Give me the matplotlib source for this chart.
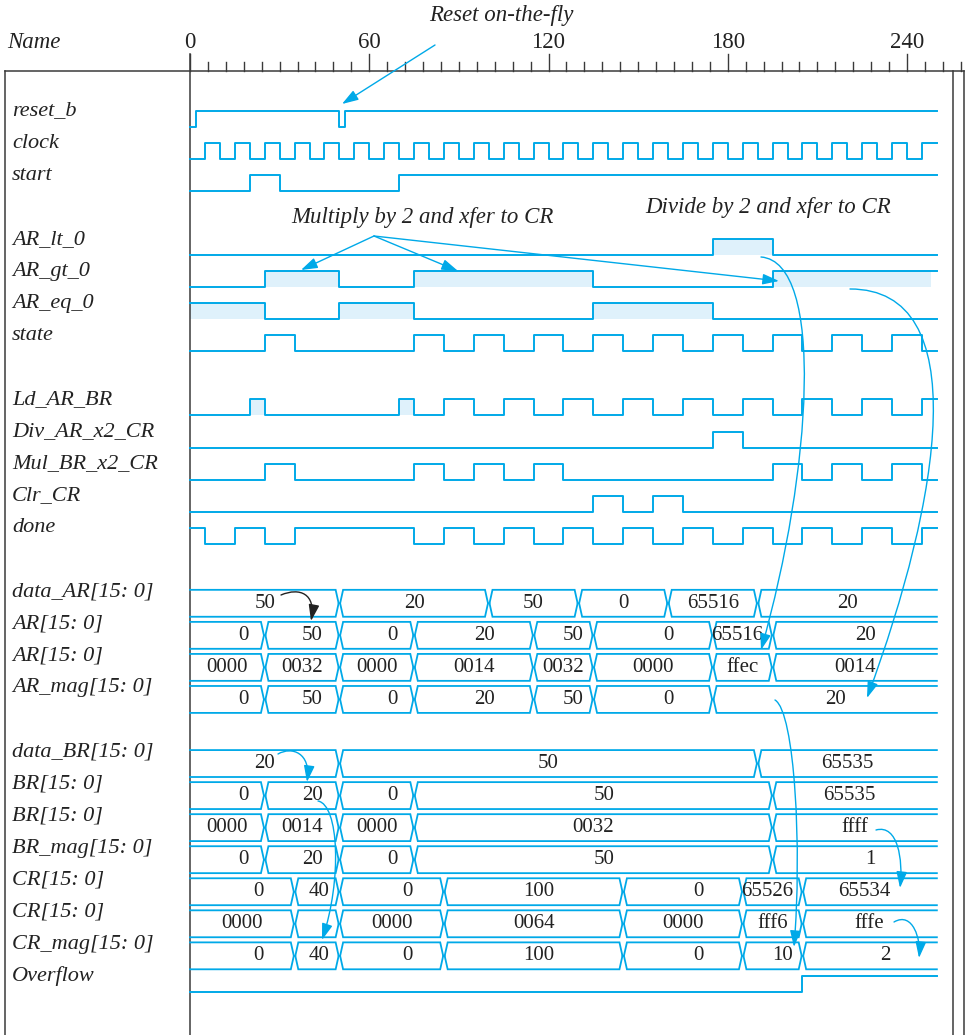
import numpy as np
import matplotlib.pyplot as plt
from matplotlib.path import Path
from matplotlib.patches import FancyArrowPatch

# layout: image pixels -> time / row units
W, H = 966, 1035
X0, SX = 190.0, 2.9875      # pixel of t=0, pixels per time unit
Y0, SY = 111.0, 32.05       # pixel of row 0 (high level), pixels per row
T_END = 250

BLUE = '#00a9e8'
SHADE = '#dff1fb'
FRAME = '#3a3a3a'
SERIF = ['Liberation Serif', 'DejaVu Serif']

# ---------------- data ----------------
time_ticks = [0, 60, 120, 180, 240]

sig_names = ['reset_b', 'clock', 'start', 'AR_lt_0', 'AR_gt_0', 'AR_eq_0', 'state',
             'Ld_AR_BR', 'Div_AR_x2_CR', 'Mul_BR_x2_CR', 'Clr_CR', 'done', 'Overflow']
sig_rows = [0, 1, 2, 4, 5, 6, 7, 9, 10, 11, 12, 13, 27]
sig_init = [0, 0, 0, 0, 0, 1, 0, 0, 0, 0, 0, 1, 0]

reset_b_edges = [2, 50, 52]
clock_edges = [5, 10, 15, 20, 25, 30, 35, 40, 45, 50, 55, 60, 65, 70, 75, 80, 85, 90, 95,
               100, 105, 110, 115, 120, 125, 130, 135, 140, 145, 150, 155, 160, 165, 170,
               175, 180, 185, 190, 195, 200, 205, 210, 215, 220, 225, 230, 235, 240, 245]
start_edges = [20, 30, 70]
AR_lt_0_edges = [175, 195]
AR_gt_0_edges = [25, 50, 75, 135, 195]
AR_eq_0_edges = [25, 50, 75, 135, 175]
state_edges = [25, 35, 75, 85, 95, 105, 115, 125, 135, 145, 155, 165, 175, 185, 195,
               205, 215, 225, 235, 245]
Ld_AR_BR_edges = [20, 25, 70, 75, 85, 95, 105, 115, 125, 135, 145, 155, 165, 175, 185,
                  195, 205, 215, 225, 235, 245]
Div_AR_x2_CR_edges = [175, 185]
Mul_BR_x2_CR_edges = [25, 35, 75, 85, 95, 105, 115, 125, 195, 205, 215, 225, 235, 245]
Clr_CR_edges = [135, 145, 155, 165]
done_edges = [5, 15, 25, 35, 75, 85, 95, 105, 115, 125, 135, 145, 155, 165, 175, 185,
              195, 205, 215, 225, 235, 245]
Overflow_edges = [205]
sig_edges = [reset_b_edges, clock_edges, start_edges, AR_lt_0_edges, AR_gt_0_edges,
             AR_eq_0_edges, state_edges, Ld_AR_BR_edges, Div_AR_x2_CR_edges,
             Mul_BR_x2_CR_edges, Clr_CR_edges, done_edges, Overflow_edges]

# highlighted (shaded) intervals
shade_spans = {
    'AR_lt_0': [(175, 195)],
    'AR_gt_0': [(25, 50), (75, 135), (195, 248)],
    'AR_eq_0': [(0, 25), (50, 75), (135, 175)],
    'Ld_AR_BR': [(20, 25), (70, 75)],
}

bus_names = ['data_AR[15: 0]', 'AR[15: 0]', 'AR[15: 0]', 'AR_mag[15: 0]',
             'data_BR[15: 0]', 'BR[15: 0]', 'BR[15: 0]', 'BR_mag[15: 0]',
             'CR[15: 0]', 'CR[15: 0]', 'CR_mag[15: 0]']
bus_rows = [15, 16, 17, 18, 20, 21, 22, 23, 24, 25, 26]
bus_align = ['c', 'r', 'c', 'r', 'c', 'r', 'c', 'r', 'r', 'c', 'r']

data_AR_t = [0, 50, 100, 130, 160, 190, 250]
data_AR_v = ['50', '20', '50', '0', '65516', '20']
AR_t = [0, 25, 50, 75, 115, 135, 175, 195, 250]
AR_dec = ['0', '50', '0', '20', '50', '0', '65516', '20']
AR_hex = ['0000', '0032', '0000', '0014', '0032', '0000', 'ffec', '0014']
AR_mag_t = [0, 25, 50, 75, 115, 135, 175, 250]
AR_mag_v = ['0', '50', '0', '20', '50', '0', '20']
data_BR_t = [0, 50, 190, 250]
data_BR_v = ['20', '50', '65535']
BR_t = [0, 25, 50, 75, 195, 250]
BR_dec = ['0', '20', '0', '50', '65535']
BR_hex = ['0000', '0014', '0000', '0032', 'ffff']
BR_mag_v = ['0', '20', '0', '50', '1']
CR_t = [0, 35, 50, 85, 145, 185, 205, 250]
CR_dec = ['0', '40', '0', '100', '0', '65526', '65534']
CR_hex = ['0000', '', '0000', '0064', '0000', 'fff6', 'fffe']
CR_mag_v = ['0', '40', '0', '100', '0', '10', '2']

bus_times = [data_AR_t, AR_t, AR_t, AR_mag_t, data_BR_t, BR_t, BR_t, BR_t, CR_t, CR_t, CR_t]
bus_vals = [data_AR_v, AR_dec, AR_hex, AR_mag_v, data_BR_v, BR_dec, BR_hex, BR_mag_v,
            CR_dec, CR_hex, CR_mag_v]


def px(x, y):
    return (x - X0) / SX, (y - Y0) / SY


fig = plt.figure(figsize=(W / 100, H / 100), dpi=100)
ax = fig.add_axes([0, 0, 1, 1])
ax.set_xlim(px(0, 0)[0], px(W, 0)[0])
ax.set_ylim(px(0, H)[1], px(0, 0)[1])
ax.axis('off')

# ---------------- frame and time scale ----------------
left_t = px(5, 0)[0]
r1_t, r2_t = px(952.5, 0)[0], px(964.5, 0)[0]
top_r = px(0, 71)[1]
bot_r = px(0, H)[1]
ax.plot([left_t, r2_t], [top_r, top_r], color=FRAME, lw=1.1)
for xt in [left_t, r1_t, r2_t]:
    ax.plot([xt, xt], [top_r, bot_r], color=FRAME, lw=1.1)
ax.plot([0, 0], [px(0, 54)[1], bot_r], color=FRAME, lw=1.1)
for t in np.arange(0, 259, 6):
    y_top = px(0, 54)[1] if t % 60 == 0 else px(0, 62)[1]
    ax.plot([t, t], [y_top, top_r], color=FRAME, lw=1.0)
lab_r = px(0, 43)[1]
for t in time_ticks:
    ax.text(t, lab_r, str(t), ha='center', va='center', fontsize=16.5, family=SERIF,
            color='#222222')
ax.text(px(7, 0)[0], lab_r, 'Name', ha='left', va='center', fontsize=16.5,
        family=SERIF, style='italic', color='#222222')

name_x = px(12, 0)[0]
lbl = dict(ha='left', va='center', fontsize=16, family=SERIF, style='italic',
           color='#222222')

# ---------------- binary signals ----------------
for name, row, init, edges in zip(sig_names, sig_rows, sig_init, sig_edges):
    xs = [0] + edges + [T_END]
    lv = [(init + i) % 2 for i in range(len(xs) - 1)]
    lv.append(lv[-1])
    ys = [row if v else row + 0.5 for v in lv]
    for a, b in shade_spans.get(name, []):
        ax.fill_between([a, b], row, row + 0.5, color=SHADE, lw=0, zorder=1)
    ax.step(xs, ys, where='post', color=BLUE, lw=1.4, zorder=3)
    ax.text(name_x, row, name, **lbl)

# ---------------- buses ----------------
d, g = 1.0, 0.25
for name, row, al, ts, vals in zip(bus_names, bus_rows, bus_align, bus_times, bus_vals):
    top, bot = row - 0.06, row + 0.78
    mid = (top + bot) / 2
    for i, v in enumerate(vals):
        a, b = ts[i], ts[i + 1]
        la = a + g if a > 0 else 0
        rb = b - g if b < T_END else T_END
        # top edge with slanted ends, mirrored for the bottom edge
        xs_e, ys_e = [], []
        if a > 0:
            xs_e += [la, la + d]
            ys_e += [mid, top]
        else:
            xs_e += [0]
            ys_e += [top]
        if b < T_END:
            xs_e += [rb - d, rb]
            ys_e += [top, mid]
        else:
            xs_e += [T_END]
            ys_e += [top]
        ax.plot(xs_e, ys_e, color=BLUE, lw=1.3, zorder=3, solid_joinstyle='miter')
        ax.plot(xs_e, [2 * mid - y for y in ys_e], color=BLUE, lw=1.3, zorder=3,
                solid_joinstyle='miter')
        if v:
            if al == 'c':
                ax.text((a + b) / 2, mid, v, ha='center', va='center', fontsize=15,
                        family=SERIF, color='#222222', zorder=4)
            else:
                xr = min((a + b) / 2 + 7, b - 3.2)
                ax.text(xr, mid, v, ha='right', va='center', fontsize=15,
                        family=SERIF, color='#222222', zorder=4)
    ax.text(name_x, row, name, **lbl)

# ---------------- annotations ----------------
ann = dict(ha='center', va='center', fontsize=16.5, family=SERIF, style='italic',
           color='#222222')
ax.text(*px(501, 15), 'Reset on-the-fly', **ann)
ax.text(*px(422, 217), 'Multiply by 2 and xfer to CR', **ann)
ax.text(*px(768, 207), 'Divide by 2 and xfer to CR', **ann)

head = '-|>,head_length=0.55,head_width=0.18'


def straight(p0, p1, color=BLUE):
    ax.add_patch(FancyArrowPatch(px(*p0), px(*p1), arrowstyle=head, mutation_scale=18,
                                 color=color, lw=1.0, shrinkA=0, shrinkB=0, zorder=5))


def curve(pts, color=BLUE):
    verts = [px(*p) for p in pts]
    path = Path(verts, [Path.MOVETO, Path.CURVE4, Path.CURVE4, Path.CURVE4])
    ax.add_patch(FancyArrowPatch(path=path, arrowstyle=head, mutation_scale=18,
                                 color=color, lw=1.0, zorder=5))


straight((435, 45), (342, 104))
for tip in [(301, 270), (458, 271), (779, 281)]:
    straight((374, 236), tip)

curve([(761, 257), (825, 262), (812, 470), (761, 650)])
curve([(850, 289), (975, 289), (941, 498), (867, 698)])
curve([(775, 700), (795, 712), (802, 850), (794, 947)])
curve([(278, 754), (292, 746), (311, 753), (307, 782)])
curve([(318, 801), (339, 805), (342, 880), (322, 940)])
curve([(876, 830), (898, 824), (903, 860), (900, 888)])
curve([(894, 922), (913, 911), (921, 940), (919, 958)])
curve([(281, 595), (300, 587), (316, 594), (311, 621)], color='#222222')

fig.savefig('out.png', dpi=100)
